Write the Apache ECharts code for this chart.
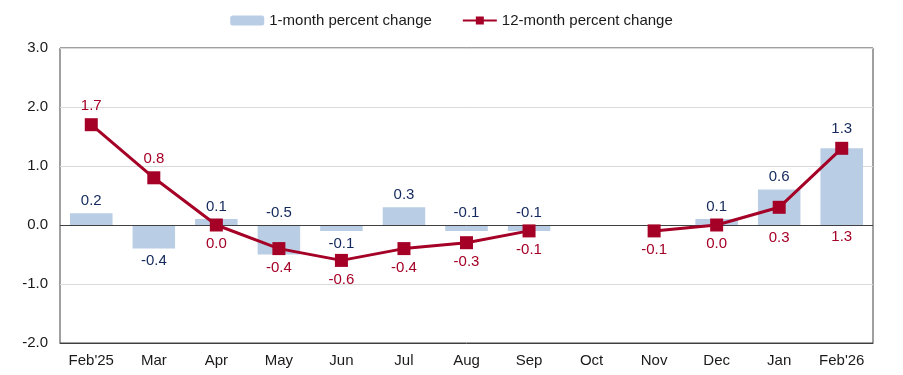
<!DOCTYPE html>
<html>
<head>
<meta charset="utf-8">
<script src="https://cdn.jsdelivr.net/npm/echarts@6/dist/echarts.min.js"></script>
<style>
  html, body { margin: 0; padding: 0; background: #fff; }
  #chart { width: 903px; height: 375px; }
</style>
</head>
<body>
<div id="chart"></div>
<script>
const categories = ["Feb'25", 'Mar', 'Apr', 'May', 'Jun', 'Jul', 'Aug', 'Sep', 'Oct', 'Nov', 'Dec', 'Jan', "Feb'26"];
const monthlyChange = [0.2, -0.4, 0.1, -0.5, -0.1, 0.3, -0.1, -0.1, null, null, 0.1, 0.6, 1.3];
const yearlyChange = [1.7, 0.8, 0.0, -0.4, -0.6, -0.4, -0.3, -0.1, null, -0.1, 0.0, 0.3, 1.3];
const yMin = -2;
const yMax = 3;
const yStep = 1;

const barColor = '#b9cde5';
const lineColor = '#a50026';
const barLabelColor = '#13285c';
const font = 'Liberation Sans, Arial, sans-serif';

// label placement tweaks so the numbers don't collide
const barLabelBelow = ['Mar', 'Jun'];
const barLabelDistance = { "Feb'26": 12 };
const lineLabelAbove = ["Feb'25", 'Mar'];
const lineLabelDistance = { Jan: 17, "Feb'26": 75 };

const barData = monthlyChange.map((v, i) => {
  if (v === null) return '-';
  const cat = categories[i];
  const below = barLabelBelow.includes(cat);
  return {
    value: v,
    label: {
      position: below ? 'bottom' : 'top',
      distance: barLabelDistance[cat] !== undefined ? barLabelDistance[cat] : 5
    }
  };
});

const lineData = yearlyChange.map((v, i) => {
  if (v === null) return '-';
  const cat = categories[i];
  const above = lineLabelAbove.includes(cat);
  return {
    value: v,
    label: {
      position: above ? 'top' : 'bottom',
      distance: lineLabelDistance[cat] !== undefined ? lineLabelDistance[cat] : 5
    }
  };
});

const chart = echarts.init(document.getElementById('chart'));

chart.setOption({
  animation: false,
  textStyle: { fontFamily: font },
  legend: {
    top: 8,
    left: 'center',
    itemWidth: 34,
    itemHeight: 10,
    itemGap: 30,
    textStyle: { fontSize: 15, color: '#1a1a1a', fontFamily: font },
    data: ['1-month percent change', '12-month percent change']
  },
  grid: {
    left: 60,
    right: 30,
    top: 48,
    bottom: 32,
    show: true,
    borderColor: '#404040',
    borderWidth: 1
  },
  xAxis: {
    type: 'category',
    data: categories,
    axisLine: { onZero: false, lineStyle: { color: '#404040' } },
    axisTick: { show: false },
    axisLabel: { color: '#1a1a1a', fontSize: 15, margin: 10, fontFamily: font }
  },
  yAxis: {
    type: 'value',
    min: yMin,
    max: yMax,
    interval: yStep,
    axisLine: { show: false },
    axisTick: { show: false },
    axisLabel: {
      color: '#1a1a1a',
      fontSize: 15,
      margin: 12,
      fontFamily: font,
      formatter: v => v.toFixed(1)
    },
    splitLine: { lineStyle: { color: '#d9d9d9', width: 1 } }
  },
  series: [
    {
      name: '1-month percent change',
      type: 'bar',
      data: barData,
      barWidth: '68%',
      itemStyle: { color: barColor },
      label: {
        show: true,
        color: barLabelColor,
        fontSize: 15,
        fontFamily: font,
        formatter: p => Number(p.value).toFixed(1)
      },
      markLine: {
        silent: true,
        symbol: 'none',
        label: { show: false },
        lineStyle: { color: '#404040', type: 'solid', width: 1 },
        data: [{ yAxis: 0 }]
      },
      z: 2
    },
    {
      name: '12-month percent change',
      type: 'line',
      data: lineData,
      connectNulls: false,
      symbol: 'rect',
      symbolSize: 13,
      lineStyle: { color: lineColor, width: 3 },
      itemStyle: { color: lineColor },
      label: {
        show: true,
        color: lineColor,
        fontSize: 15,
        fontFamily: font,
        formatter: p => Number(p.value).toFixed(1)
      },
      z: 5
    }
  ]
});
</script>
</body>
</html>
